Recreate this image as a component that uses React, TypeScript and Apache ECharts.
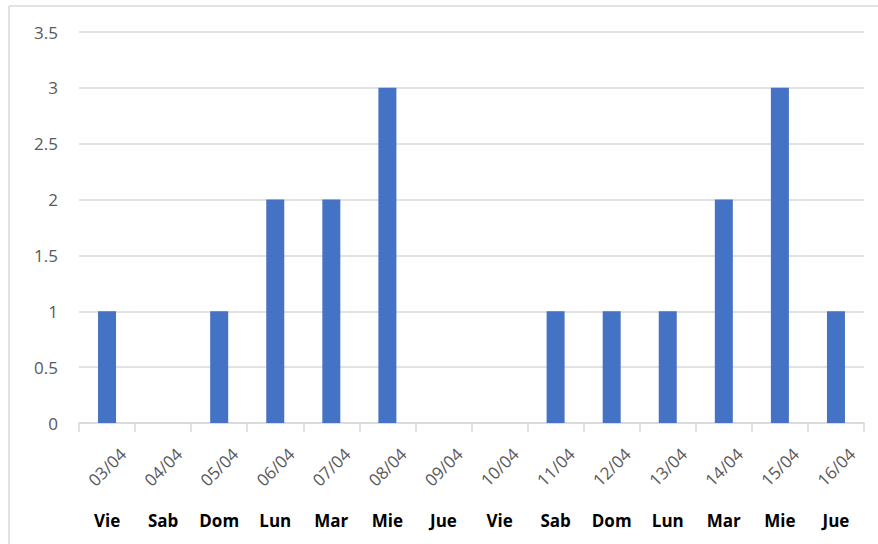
import React, { useEffect, useRef } from "react";
import * as echarts from "echarts";

const dates = ["03/04", "04/04", "05/04", "06/04", "07/04", "08/04", "09/04", "10/04", "11/04", "12/04", "13/04", "14/04", "15/04", "16/04"];
const days = ["Vie", "Sab", "Dom", "Lun", "Mar", "Mie", "Jue", "Vie", "Sab", "Dom", "Lun", "Mar", "Mie", "Jue"];
const values = [1, 0, 1, 2, 2, 3, 0, 0, 1, 1, 1, 2, 3, 1];
const yTicks = [0, 0.5, 1, 1.5, 2, 2.5, 3, 3.5];

const FONT = "'Open Sans', 'Liberation Sans', sans-serif";

export default function App() {
  const ref = useRef<HTMLDivElement>(null);
  useEffect(() => {
    document.body.style.margin = "0";
    const chart = echarts.init(ref.current!, null, { renderer: "svg" });
    chart.setOption({
      animation: false,
      backgroundColor: "#fff",
      graphic: [
        { type: "line", shape: { x1: 9, y1: 6, x2: 878, y2: 6 }, style: { stroke: "#d9d9d9", lineWidth: 1.5 } },
        { type: "line", shape: { x1: 9, y1: 6, x2: 9, y2: 544 }, style: { stroke: "#d9d9d9", lineWidth: 1.5 } },
      ],
      grid: { left: 79, right: 14, top: 32, bottom: 121, containLabel: false },
      xAxis: [
        {
          type: "category",
          data: dates,
          position: "bottom",
          axisLine: { lineStyle: { color: "#d9d9d9", width: 1.5 } },
          axisTick: { show: true, length: 9, lineStyle: { color: "#d9d9d9", width: 1.5 } },
          axisLabel: {
            rotate: 45,
            align: "center",
            verticalAlign: "middle",
            margin: 44,
            color: "#595959",
            fontSize: 17,
            fontFamily: FONT,
            interval: 0,
          },
        },
        {
          type: "category",
          data: days,
          position: "bottom",
          offset: 0,
          axisLine: { show: false },
          axisTick: { show: false },
          axisLabel: {
            align: "center",
            verticalAlign: "middle",
            margin: 97,
            color: "#000",
            fontWeight: "bold",
            fontSize: 17,
            fontFamily: FONT,
            interval: 0,
          },
        },
      ],
      yAxis: {
        type: "value",
        min: yTicks[0],
        max: yTicks[yTicks.length - 1],
        interval: 0.5,
        axisLine: { show: false },
        axisTick: { show: false },
        splitLine: { lineStyle: { color: "#d9d9d9", width: 1.5 } },
        axisLabel: { color: "#595959", fontSize: 17, fontFamily: FONT, margin: 21 },
      },
      series: [
        {
          type: "bar",
          data: values,
          xAxisIndex: 0,
          barWidth: 18,
          itemStyle: { color: "#4472C4" },
        },
      ],
    });
    return () => chart.dispose();
  }, []);
  return <div ref={ref} style={{ width: 878, height: 544 }} />;
}
